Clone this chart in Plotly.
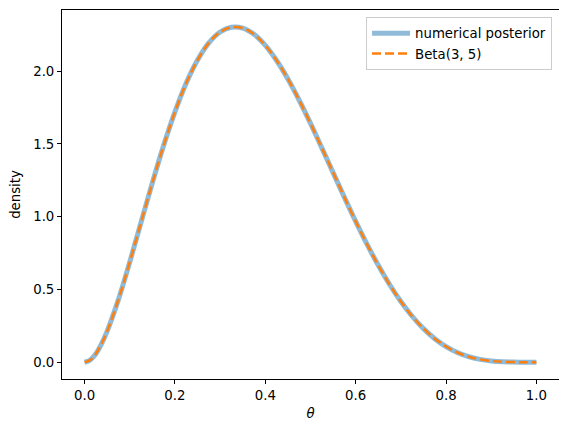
import plotly.graph_objects as go

# theta grid and density values
theta = [0.0, 0.0125, 0.025, 0.0375, 0.05, 0.075, 0.1, 0.125, 0.15, 0.175, 0.2, 0.225,
         0.25, 0.275, 0.3, 0.325, 0.35, 0.375, 0.4, 0.425, 0.45, 0.475,
         0.5, 0.525, 0.55, 0.575, 0.6, 0.625, 0.65, 0.675, 0.7, 0.725,
         0.75, 0.775, 0.8, 0.825, 0.85, 0.875, 0.9, 0.925, 0.95, 0.975, 1.0]
posterior = [0.0, 0.016, 0.059, 0.127, 0.214, 0.432, 0.689, 0.962, 1.233, 1.490, 1.720, 1.918,
             2.076, 2.194, 2.269, 2.302, 2.296, 2.253, 2.177, 2.073, 1.946, 1.800,
             1.641, 1.473, 1.303, 1.133, 0.968, 0.811, 0.666, 0.534, 0.417, 0.316,
             0.231, 0.162, 0.108, 0.067, 0.038, 0.020, 0.009, 0.003, 0.001, 0.0, 0.0]
beta_pdf = [0.0, 0.016, 0.059, 0.127, 0.214, 0.432, 0.689, 0.962, 1.233, 1.490, 1.720, 1.918,
            2.076, 2.194, 2.269, 2.302, 2.296, 2.253, 2.177, 2.073, 1.946, 1.800,
            1.641, 1.473, 1.303, 1.133, 0.968, 0.811, 0.666, 0.534, 0.417, 0.316,
            0.231, 0.162, 0.108, 0.067, 0.038, 0.020, 0.009, 0.003, 0.001, 0.0, 0.0]

font = "DejaVu Sans, Arial, sans-serif"
fs = 13.3

fig = go.Figure()
fig.add_trace(go.Scatter(
    x=theta, y=posterior, mode="lines", name="numerical posterior",
    line=dict(color="rgba(31,119,180,0.5)", width=5, shape="spline"),
))
fig.add_trace(go.Scatter(
    x=theta, y=beta_pdf, mode="lines", name="Beta(3, 5)",
    line=dict(color="#ff7f0e", width=2.5, dash="9px,4px", shape="spline"),
))

axis_style = dict(
    showline=True, linecolor="black", linewidth=1, mirror=True,
    ticks="outside", ticklen=4, tickcolor="black", tickwidth=1,
    showgrid=False, zeroline=False, automargin=False,
    tickfont=dict(family=font, size=fs, color="black"),
)

# page body has an 8px margin, so the figure is sized/offset to compensate
fig.update_layout(
    width=559, height=425,
    margin=dict(l=54, r=8, t=2, b=54),
    plot_bgcolor="white", paper_bgcolor="white",
    font=dict(family=font, size=fs, color="black"),
    legend=dict(
        x=0.986, y=0.981, xanchor="right", yanchor="top",
        bordercolor="#cccccc", borderwidth=1, bgcolor="rgba(255,255,255,0.8)",
        font=dict(family=font, size=fs), itemwidth=38,
    ),
)
fig.update_xaxes(axis_style, range=[-0.05, 1.05], dtick=0.2, tick0=0, tickformat=".1f",
                 title=dict(text="<i>θ</i>", font=dict(family=font, size=fs), standoff=6))
fig.update_yaxes(axis_style, range=[-0.115, 2.42], dtick=0.5, tick0=0, tickformat=".1f",
                 title=dict(text="density", font=dict(family=font, size=fs), standoff=12))

fig.write_html("out.html")
